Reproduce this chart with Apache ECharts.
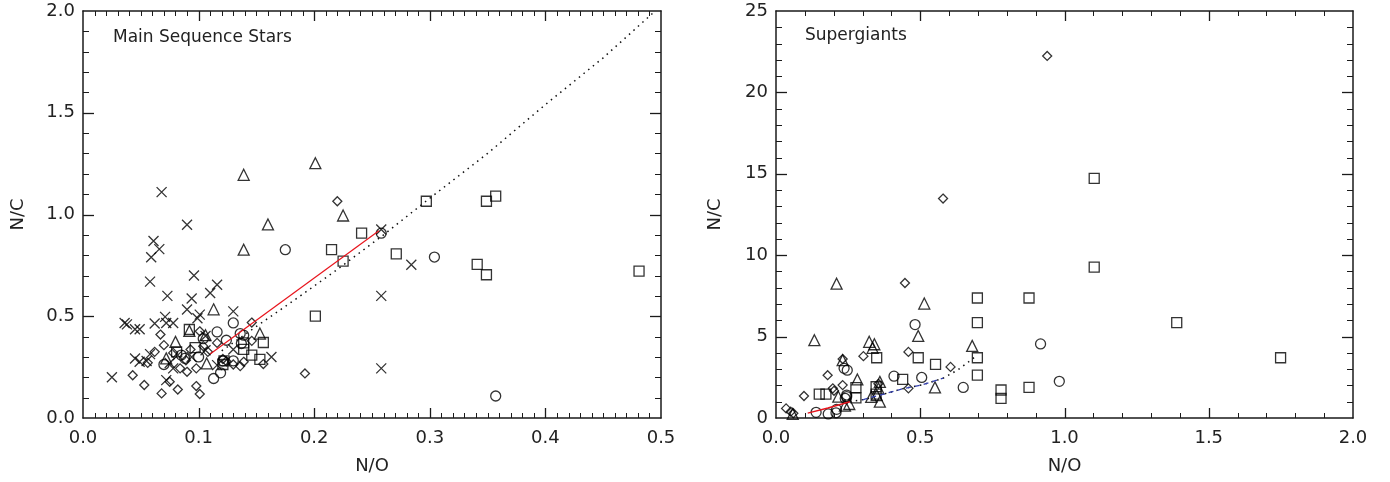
<!DOCTYPE html>
<html>
<head>
<meta charset="utf-8">
<script src="https://cdn.jsdelivr.net/npm/echarts@6/dist/echarts.min.js"></script>
<style>html,body{margin:0;padding:0;background:#fff}#c{width:1390px;height:482px}</style>
</head>
<body>
<div id="c"></div>
<script>
// ---------------- DATA ----------------
// Main Sequence Stars panel (N/O, N/C)
const msCross = [[0.025,0.20],[0.068,1.11],[0.090,0.95],[0.061,0.87],[0.066,0.83],[0.059,0.79],[0.096,0.70],[0.058,0.67],[0.116,0.655],[0.110,0.614],[0.073,0.60],[0.094,0.587],[0.090,0.533],[0.130,0.524],[0.101,0.508],[0.071,0.497],[0.036,0.467],[0.038,0.46],[0.045,0.436],[0.049,0.436],[0.062,0.464],[0.072,0.467],[0.078,0.467],[0.106,0.403],[0.045,0.292],[0.049,0.276],[0.058,0.314],[0.072,0.186],[0.078,0.244],[0.082,0.309],[0.106,0.333],[0.116,0.26],[0.130,0.337],[0.163,0.30],[0.258,0.926],[0.284,0.753],[0.258,0.60],[0.258,0.244],[0.075,0.27],[0.055,0.28],[0.094,0.30],[0.099,0.49]];
const msDiamond = [[0.043,0.21],[0.053,0.162],[0.068,0.121],[0.082,0.14],[0.098,0.157],[0.101,0.118],[0.075,0.178],[0.067,0.41],[0.070,0.358],[0.056,0.271],[0.062,0.325],[0.078,0.32],[0.084,0.244],[0.090,0.227],[0.098,0.244],[0.101,0.426],[0.116,0.369],[0.124,0.279],[0.130,0.263],[0.136,0.255],[0.139,0.276],[0.146,0.469],[0.146,0.379],[0.156,0.265],[0.192,0.219],[0.089,0.284],[0.093,0.337],[0.104,0.353],[0.108,0.325],[0.121,0.29],[0.220,1.065]];
const msCircle = [[0.175,0.827],[0.130,0.467],[0.116,0.423],[0.113,0.194],[0.119,0.222],[0.070,0.263],[0.085,0.309],[0.088,0.293],[0.100,0.30],[0.124,0.382],[0.139,0.407],[0.137,0.366],[0.121,0.281],[0.104,0.39],[0.130,0.281],[0.136,0.415],[0.258,0.908],[0.304,0.791],[0.357,0.108]];
const msTriangle = [[0.139,1.195],[0.201,1.252],[0.160,0.951],[0.139,0.827],[0.113,0.534],[0.153,0.415],[0.106,0.407],[0.092,0.428],[0.072,0.293],[0.080,0.374],[0.107,0.268],[0.225,0.995]];
const msSquare = [[0.201,0.501],[0.092,0.435],[0.156,0.371],[0.146,0.309],[0.153,0.288],[0.139,0.369],[0.139,0.337],[0.122,0.281],[0.121,0.263],[0.097,0.346],[0.081,0.325],[0.241,0.908],[0.215,0.827],[0.225,0.771],[0.297,1.065],[0.349,1.065],[0.357,1.09],[0.271,0.807],[0.341,0.755],[0.349,0.704],[0.481,0.722]];
const msRedX = [0.110,0.256];
const msRedY = [0.314,0.920];
const msDottedX = [0.12,0.15,0.188,0.22,0.26,0.30,0.35,0.40,0.45,0.495];
const msDottedY = [0.33,0.45,0.60,0.73,0.90,1.08,1.30,1.54,1.77,2.00];

// Supergiants panel (N/O, N/C)
const sgDiamond = [[0.940,22.24],[0.579,13.48],[0.447,8.29],[0.459,4.06],[0.303,3.80],[0.231,3.62],[0.605,3.14],[0.179,2.63],[0.459,1.82],[0.097,1.35],[0.197,1.82],[0.201,1.67],[0.231,2.02],[0.035,0.59],[0.051,0.39],[0.060,0.29],[0.355,2.10]];
const sgTriangle = [[0.21,8.25],[0.514,7.03],[0.493,5.04],[0.133,4.78],[0.323,4.68],[0.341,4.53],[0.335,4.31],[0.68,4.43],[0.231,3.55],[0.282,2.37],[0.551,1.88],[0.36,2.22],[0.355,1.82],[0.349,1.41],[0.216,1.31],[0.254,0.86],[0.239,0.76],[0.058,0.25],[0.33,1.30],[0.36,1.00]];
const sgCircle = [[0.917,4.55],[0.982,2.25],[0.482,5.74],[0.236,3.05],[0.247,2.94],[0.409,2.57],[0.505,2.49],[0.649,1.88],[0.245,1.41],[0.245,1.31],[0.139,0.35],[0.181,0.25],[0.208,0.32],[0.21,0.53],[0.24,1.20]];
const sgSquare = [[1.103,14.72],[1.103,9.27],[0.877,7.37],[1.389,5.86],[1.749,3.70],[0.877,1.88],[0.78,1.72],[0.78,1.21],[0.698,7.37],[0.698,5.86],[0.493,3.70],[0.349,3.70],[0.698,3.70],[0.553,3.29],[0.439,2.37],[0.698,2.63],[0.347,1.92],[0.347,1.47],[0.15,1.47],[0.173,1.47],[0.277,1.86],[0.277,1.24]];
const sgRedX = [0.11,0.18,0.256];
const sgRedY = [0.30,0.62,1.00];
const sgDottedX = [0.256,0.31,0.36,0.44,0.51,0.58,0.63,0.69];
const sgDottedY = [1.00,1.15,1.40,1.80,2.05,2.45,2.95,3.75];
const sgBlueX = [0.30,0.36,0.44,0.51,0.58];
const sgBlueY = [1.12,1.40,1.80,2.05,2.45];

// Tick labels
const msXTicks = ['0.0','0.1','0.2','0.3','0.4','0.5'];
const msYTicks = ['0.0','0.5','1.0','1.5','2.0'];
const sgXTicks = ['0.0','0.5','1.0','1.5','2.0'];
const sgYTicks = ['0','5','10','15','20','25'];

// ---------------- CHART ----------------
const FONT = 'DejaVu Sans';
const TXT = '#222';
const AX = '#1a1a1a';
const chart = echarts.init(document.getElementById('c'), null, {renderer: 'canvas'});

function axis(dim, grid, pos, min, max, interval, labels, name, nameGap) {
  const a = {
    type: 'value', gridIndex: grid, position: pos, min: min, max: max, interval: interval,
    axisLine: {show: true, onZero: false, lineStyle: {color: AX, width: 1.5}},
    axisTick: {show: false},
    minorTick: {show: false},
    splitLine: {show: false},
    axisLabel: {
      show: true, fontFamily: FONT, fontSize: 18, color: TXT, margin: dim === 'x' ? 11 : 8,
      formatter: function (v) { return labels ? labels[Math.round((v - min) / interval)] : ''; }
    }
  };
  if (name) {
    a.name = name;
    a.nameLocation = 'middle';
    a.nameGap = nameGap;
    a.nameTextStyle = {fontFamily: FONT, fontSize: 18, color: TXT};
  }
  return a;
}

const CROSS = 'path://M0,0L10,10M10,0L0,10';
function scatter(data, symbol, size, ai) {
  return {
    type: 'scatter', xAxisIndex: ai, yAxisIndex: ai, data: data, animation: false,
    symbol: symbol, symbolSize: size, silent: true,
    itemStyle: {color: 'transparent', borderColor: '#000', borderWidth: 1.3}
  };
}
// curve drawn through the axes' own scales (api.coord)
function curve(xs, ys, color, dash, width, ai) {
  return {
    type: 'custom', xAxisIndex: ai, yAxisIndex: ai, silent: true, z: 3, animation: false,
    data: [[xs[0], ys[0]]],
    renderItem: function (params, api) {
      const pts = xs.map(function (x, i) { return api.coord([x, ys[i]]); });
      return {type: 'polyline', shape: {points: pts},
              style: {stroke: color, lineWidth: width, lineDash: dash, fill: null}};
    }
  };
}
// inward major/minor ticks on all four sides, placed by the axes' scales
function frameTicks(ai, xr, xMajor, xMinorN, yr, yMajor, yMinorN) {
  return {
    type: 'custom', xAxisIndex: ai, yAxisIndex: ai, silent: true, z: 6, animation: false, clip: false,
    data: [[xr[0], yr[0]]],
    renderItem: function (params, api) {
      const kids = [];
      const p0 = api.coord([xr[0], yr[0]]);
      const p1 = api.coord([xr[1], yr[1]]);
      const L = p0[0], B = p0[1], R = p1[0], T = p1[1];
      function seg(x1, y1, x2, y2, major) {
        kids.push({type: 'line', shape: {x1: x1, y1: y1, x2: x2, y2: y2},
                   style: {stroke: AX, lineWidth: major ? 1.3 : 1}});
      }
      const xStep = xMajor / xMinorN;
      const nx = Math.round((xr[1] - xr[0]) / xStep);
      for (let k = 1; k < nx; k++) {
        const major = k % xMinorN === 0;
        const len = major ? 10 : 5;
        const x = Math.round(api.coord([xr[0] + k * xStep, yr[0]])[0]) + 0.5;
        seg(x, B, x, B - len, major);
        seg(x, T, x, T + len, major);
      }
      const yStep = yMajor / yMinorN;
      const ny = Math.round((yr[1] - yr[0]) / yStep);
      for (let k = 1; k < ny; k++) {
        const major = k % yMinorN === 0;
        const len = major ? 11 : 6;
        const y = Math.round(api.coord([xr[0], yr[0] + k * yStep])[1]) + 0.5;
        seg(L, y, L + len, y, major);
        seg(R, y, R - len, y, major);
      }
      return {type: 'group', children: kids};
    }
  };
}

const option = {
  backgroundColor: '#fff',
  animation: false,
  grid: [
    {left: 83, right: 729, top: 10, bottom: 64},
    {left: 776, right: 37, top: 10, bottom: 64}
  ],
  title: [
    {text: 'Main Sequence Stars', left: 113, top: 29, padding: 0,
     textStyle: {fontFamily: FONT, fontSize: 17, fontWeight: 'normal', color: TXT}},
    {text: 'Supergiants', left: 805, top: 27, padding: 0,
     textStyle: {fontFamily: FONT, fontSize: 17, fontWeight: 'normal', color: TXT}}
  ],
  xAxis: [
    axis('x', 0, 'bottom', 0, 0.5, 0.1, msXTicks, 'N/O', 39),
    axis('x', 1, 'bottom', 0, 2, 0.5, sgXTicks, 'N/O', 39),
    axis('x', 0, 'top', 0, 0.5, 0.1, null),
    axis('x', 1, 'top', 0, 2, 0.5, null)
  ],
  yAxis: [
    axis('y', 0, 'left', 0, 2, 0.5, msYTicks, 'N/C', 56),
    axis('y', 1, 'left', 0, 25, 5, sgYTicks, 'N/C', 52),
    axis('y', 0, 'right', 0, 2, 0.5, null),
    axis('y', 1, 'right', 0, 25, 5, null)
  ],
  series: [
    frameTicks(0, [0, 0.5], 0.1, 10, [0, 2], 0.5, 5),
    frameTicks(1, [0, 2], 0.5, 5, [0, 25], 5, 5),

    scatter(msCross, CROSS, 10, 0),
    scatter(msDiamond, 'diamond', 9, 0),
    scatter(msCircle, 'circle', 10, 0),
    scatter(msTriangle, 'triangle', 11, 0),
    scatter(msSquare, 'rect', 10, 0),
    curve(msDottedX, msDottedY, '#111', [1.5, 4.5], 1.5, 0),
    curve(msRedX, msRedY, '#e8141c', null, 1.2, 0),

    scatter(sgDiamond, 'diamond', 9, 1),
    scatter(sgCircle, 'circle', 10, 1),
    scatter(sgTriangle, 'triangle', 11, 1),
    scatter(sgSquare, 'rect', 10, 1),
    curve(sgDottedX, sgDottedY, '#111', [1.5, 4.5], 1.5, 1),
    curve(sgBlueX, sgBlueY, '#3340b0', [5, 4], 1.3, 1),
    curve(sgRedX, sgRedY, '#e8141c', null, 1.5, 1)
  ]
};
chart.setOption(option);
</script>
</body>
</html>
